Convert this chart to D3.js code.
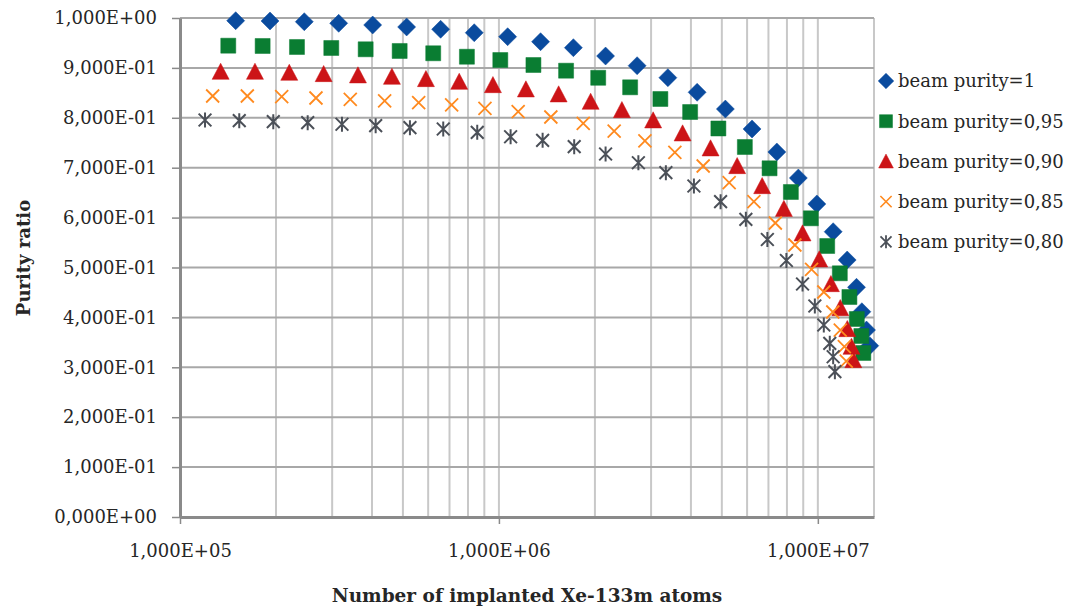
<!DOCTYPE html>
<html>
<head>
<meta charset="utf-8">
<script src="https://cdn.jsdelivr.net/npm/d3@7"></script>
<style>
  html, body { margin: 0; padding: 0; background: #fff; }
  svg { display: block; }
  text { font-family: 'DejaVu Serif', serif; fill: #262626; }
</style>
</head>
<body>
<div class="chart"></div>
<script>
const WIDTH = 1078
const HEIGHT = 607
const margin = {top: 18, right: 204, bottom: 90, left: 180}

const SERIES = ['beam purity=1', 'beam purity=0,95', 'beam purity=0,90', 'beam purity=0,85', 'beam purity=0,80']
const COLORS = ['#0a4b9e', '#0a7d32', '#cc1417', '#ff8a1f', '#4b5058']
const Y_TICKS = [0, 0.1, 0.2, 0.3, 0.4, 0.5, 0.6, 0.7, 0.8, 0.9, 1]
const X_TICKS = [1e5, 1e6, 1e7]

// number of implanted atoms
const x100 = [1.495e5, 1.915e5, 2.453e5, 3.145e5, 4.019e5, 5.136e5, 6.566e5, 8.367e5, 1.065e6, 1.351e6, 1.712e6, 2.160e6, 2.712e6, 3.387e6, 4.183e6, 5.129e6, 6.218e6, 7.438e6, 8.687e6, 9.929e6, 1.117e7, 1.236e7, 1.322e7, 1.374e7, 1.421e7, 1.455e7]
const y100 = [0.9946, 0.9940, 0.9926, 0.9894, 0.9860, 0.9820, 0.9774, 0.9705, 0.9625, 0.9525, 0.9405, 0.9238, 0.9044, 0.8804, 0.8511, 0.8176, 0.7776, 0.7315, 0.6794, 0.6273, 0.5717, 0.5150, 0.4603, 0.4114, 0.3747, 0.3433]

const x95 = [1.417e5, 1.816e5, 2.327e5, 2.981e5, 3.821e5, 4.884e5, 6.223e5, 7.937e5, 1.010e6, 1.283e6, 1.624e6, 2.048e6, 2.579e6, 3.208e6, 3.977e6, 4.877e6, 5.904e6, 7.057e6, 8.230e6, 9.508e6, 1.070e7, 1.172e7, 1.256e7, 1.325e7, 1.369e7, 1.389e7]
const y95 = [0.9445, 0.9439, 0.9419, 0.9399, 0.9373, 0.9339, 0.9293, 0.9224, 0.9158, 0.9058, 0.8944, 0.8802, 0.8611, 0.8377, 0.8116, 0.7786, 0.7415, 0.6988, 0.6513, 0.5986, 0.5431, 0.4884, 0.4409, 0.3968, 0.3627, 0.3287]

const x90 = [1.341e5, 1.718e5, 2.201e5, 2.821e5, 3.614e5, 4.618e5, 5.904e5, 7.508e5, 9.577e5, 1.215e6, 1.539e6, 1.939e6, 2.430e6, 3.045e6, 3.766e6, 4.609e6, 5.585e6, 6.690e6, 7.825e6, 8.954e6, 1.010e7, 1.099e7, 1.176e7, 1.237e7, 1.275e7, 1.292e7]
const y90 = [0.8924, 0.8924, 0.8904, 0.8878, 0.8852, 0.8824, 0.8778, 0.8723, 0.8657, 0.8571, 0.8471, 0.8323, 0.8156, 0.7950, 0.7689, 0.7389, 0.7034, 0.6633, 0.6176, 0.5685, 0.5164, 0.4669, 0.4188, 0.3768, 0.3413, 0.3146]

const x85 = [1.266e5, 1.626e5, 2.084e5, 2.669e5, 3.419e5, 4.382e5, 5.602e5, 7.108e5, 9.041e5, 1.149e6, 1.455e6, 1.838e6, 2.298e6, 2.869e6, 3.562e6, 4.370e6, 5.272e6, 6.302e6, 7.358e6, 8.472e6, 9.557e6, 1.044e7, 1.114e7, 1.176e7, 1.211e7, 1.228e7]
const y85 = [0.8437, 0.8437, 0.8423, 0.8397, 0.8371, 0.8337, 0.8303, 0.8257, 0.8190, 0.8122, 0.8016, 0.7890, 0.7735, 0.7539, 0.7309, 0.7034, 0.6699, 0.6319, 0.5892, 0.5451, 0.4964, 0.4509, 0.4108, 0.3747, 0.3413, 0.3126]

const x80 = [1.198e5, 1.534e5, 1.961e5, 2.514e5, 3.220e5, 4.107e5, 5.260e5, 6.690e5, 8.551e5, 1.088e6, 1.371e6, 1.722e6, 2.160e6, 2.737e6, 3.338e6, 4.087e6, 4.955e6, 5.947e6, 6.946e6, 7.969e6, 8.954e6, 9.786e6, 1.044e7, 1.090e7, 1.117e7, 1.131e7]
const y80 = [0.7956, 0.7942, 0.7922, 0.7902, 0.7870, 0.7842, 0.7802, 0.7776, 0.7709, 0.7621, 0.7549, 0.7421, 0.7275, 0.7100, 0.6900, 0.6633, 0.6319, 0.5966, 0.5561, 0.5140, 0.4669, 0.4228, 0.3848, 0.3481, 0.3212, 0.2912]

const XS = [x100, x95, x90, x85, x80]
const YS = [y100, y95, y90, y85, y80]

// excel-like markers
const symDiamond = { draw (c, s) { const r = Math.sqrt(s) / 2; c.moveTo(0, -r); c.lineTo(r, 0); c.lineTo(0, r); c.lineTo(-r, 0); c.closePath() } }
const symSquare = { draw (c, s) { const r = Math.sqrt(s) / 2; c.rect(-r, -r, 2 * r, 2 * r) } }
const symTriangle = { draw (c, s) { const r = Math.sqrt(s) / 2; c.moveTo(0, -r); c.lineTo(r, r * 0.9); c.lineTo(-r, r * 0.9); c.closePath() } }
const symCross = { draw (c, s) { const r = Math.sqrt(s) / 2; c.moveTo(-r, -r); c.lineTo(r, r); c.moveTo(r, -r); c.lineTo(-r, r) } }
const symStar = { draw (c, s) { const r = Math.sqrt(s) / 2; c.moveTo(-r * 0.85, -r * 0.85); c.lineTo(r * 0.85, r * 0.85); c.moveTo(r * 0.85, -r * 0.85); c.lineTo(-r * 0.85, r * 0.85); c.moveTo(0, -r); c.lineTo(0, r) } }

const MARKERS = [
  {type: symDiamond, size: 18 * 18, filled: true},
  {type: symSquare, size: 15 * 15, filled: true},
  {type: symTriangle, size: 17 * 17, filled: true},
  {type: symCross, size: 13 * 13, filled: false, sw: 1.8},
  {type: symStar, size: 15 * 15, filled: false, sw: 2}
]

function sci (d) {
  if (d === 0) return '0,000E+00'
  const e = Math.floor(Math.log10(d) + 1e-9)
  const m = d / Math.pow(10, e)
  return m.toFixed(3).replace('.', ',') + 'E' + (e < 0 ? '-' : '+') + String(Math.abs(e)).padStart(2, '0')
}

const width = WIDTH - margin.left - margin.right
const height = HEIGHT - margin.top - margin.bottom

const scaleX = d3.scaleLog().domain([1e5, 1.5e7]).range([0, width])
const scaleY = d3.scaleLinear().domain([0, 1]).range([height, 0])

const svg = d3.select('.chart').append('svg')
  .attr('width', WIDTH)
  .attr('height', HEIGHT)

const g = svg.append('g')
  .attr('transform', `translate(${margin.left},${margin.top})`)

// minor vertical grid
const minor = []
for (let k = 5; k <= 7; k++) {
  for (let m = 1; m <= 9; m++) {
    const v = m * Math.pow(10, k)
    if (v > 1e5 && v <= 1.5e7) minor.push(v)
  }
}

g.append('g').attr('class', 'grid-x')
  .selectAll('line').data(minor).enter().append('line')
  .attr('x1', d => scaleX(d)).attr('x2', d => scaleX(d))
  .attr('y1', 0).attr('y2', height)
  .attr('stroke', '#c8c8c8').attr('stroke-width', 2)

g.append('line')
  .attr('x1', width).attr('x2', width)
  .attr('y1', 0).attr('y2', height)
  .attr('stroke', '#c8c8c8').attr('stroke-width', 2)

g.append('g').attr('class', 'grid-y')
  .selectAll('line').data(Y_TICKS.filter(d => d > 0)).enter().append('line')
  .attr('x1', 0).attr('x2', width)
  .attr('y1', d => scaleY(d)).attr('y2', d => scaleY(d))
  .attr('stroke', '#a8a8a8').attr('stroke-width', 2)

// axes
const axisY = g.append('g').attr('class', 'axis axis--y')
  .call(d3.axisLeft(scaleY).tickValues(Y_TICKS).tickFormat(sci).tickSizeInner(8).tickSizeOuter(0).tickPadding(15))
axisY.select('.domain').attr('stroke', '#8a8a8a').attr('stroke-width', 3)
axisY.selectAll('.tick line').attr('stroke', '#8a8a8a').attr('stroke-width', 1.5)
axisY.selectAll('.tick text').style('font-family', 'DejaVu Serif').style('font-size', '18px').attr('fill', '#262626')

const axisX = g.append('g').attr('class', 'axis axis--x')
  .attr('transform', `translate(0,${height})`)
  .call(d3.axisBottom(scaleX).tickValues(X_TICKS).tickFormat(sci).tickSizeInner(7).tickSizeOuter(0).tickPadding(20))
axisX.select('.domain').attr('stroke', '#8a8a8a').attr('stroke-width', 3)
axisX.selectAll('.tick line').attr('stroke', '#8a8a8a').attr('stroke-width', 1.5)
axisX.selectAll('.tick text').style('font-family', 'DejaVu Serif').style('font-size', '18px').attr('fill', '#262626')

// series
const plot = g.append('g').attr('class', 'g-plot')
SERIES.forEach((name, i) => {
  const mk = MARKERS[i]
  const sym = d3.symbol().type(mk.type).size(mk.size)
  const pts = XS[i].map((x, j) => ({x, y: YS[i][j]}))
  plot.append('g').attr('class', 'series')
    .selectAll('path').data(pts).enter().append('path')
    .attr('transform', d => `translate(${scaleX(d.x)},${scaleY(d.y)})`)
    .attr('d', sym)
    .attr('fill', mk.filled ? COLORS[i] : 'none')
    .attr('stroke', COLORS[i])
    .attr('stroke-width', mk.filled ? 0.5 : mk.sw)
})

// legend
const legend = svg.append('g').attr('class', 'legend')
  .attr('transform', `translate(886,81)`)
SERIES.forEach((name, i) => {
  const mk = MARKERS[i]
  const row = legend.append('g').attr('transform', `translate(0,${i * 40.2})`)
  row.append('path')
    .attr('d', d3.symbol().type(mk.type).size(mk.size * 0.75))
    .attr('fill', mk.filled ? COLORS[i] : 'none')
    .attr('stroke', COLORS[i])
    .attr('stroke-width', mk.filled ? 0.5 : mk.sw * 0.9)
  row.append('text')
    .attr('x', 12).attr('dy', '0.35em')
    .style('font-size', '18px')
    .attr('fill', '#1e1e2a')
    .text(name)
})

// axis titles
svg.append('text')
  .attr('x', margin.left + width / 2).attr('y', 596).attr('dy', '0.35em')
  .attr('text-anchor', 'middle')
  .style('font-size', '18.5px').style('font-weight', 'bold')
  .text('Number of implanted Xe-133m atoms')

svg.append('text')
  .attr('transform', `translate(24,258) rotate(-90)`)
  .attr('dy', '0.35em')
  .attr('text-anchor', 'middle')
  .style('font-size', '18px').style('font-weight', 'bold')
  .text('Purity ratio')
</script>
</body>
</html>
